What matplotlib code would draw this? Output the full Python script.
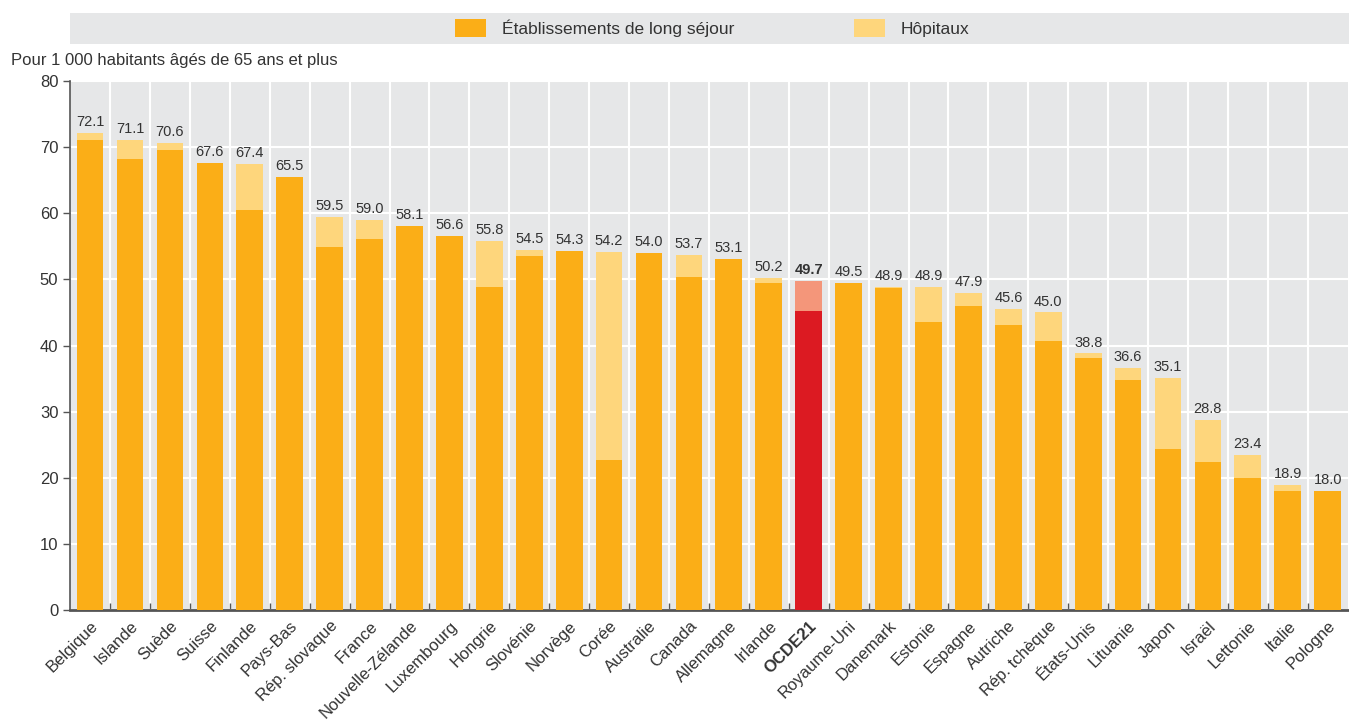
import numpy as np
import matplotlib.pyplot as plt
from matplotlib.patches import Rectangle, Patch

plt.rcParams['font.family'] = ['Liberation Sans Narrow', 'Liberation Sans', 'DejaVu Sans']

pays = ["Belgique", "Islande", "Suède", "Suisse", "Finlande", "Pays-Bas", "Rép. slovaque",
        "France", "Nouvelle-Zélande", "Luxembourg", "Hongrie", "Slovénie", "Norvège", "Corée",
        "Australie", "Canada", "Allemagne", "Irlande", "OCDE21", "Royaume-Uni", "Danemark",
        "Estonie", "Espagne", "Autriche", "Rép. tchèque", "États-Unis", "Lituanie", "Japon",
        "Israël", "Lettonie", "Italie", "Pologne"]
total = [72.1, 71.1, 70.6, 67.6, 67.4, 65.5, 59.5, 59.0, 58.1, 56.6, 55.8, 54.5, 54.3, 54.2,
         54.0, 53.7, 53.1, 50.2, 49.7, 49.5, 48.9, 48.9, 47.9, 45.6, 45.0, 38.8, 36.6, 35.1,
         28.8, 23.4, 18.9, 18.0]
long_sejour = [71.1, 68.2, 69.6, 67.6, 60.5, 65.5, 54.9, 56.1, 58.1, 56.6, 48.8, 53.5, 54.3, 22.7,
               54.0, 50.4, 53.1, 49.4, 45.2, 49.5, 48.7, 43.6, 46.0, 43.1, 40.7, 38.1, 34.8, 24.3,
               22.4, 20.0, 18.0, 18.0]

ORANGE = "#fbae17"
JAUNE = "#fed67c"
ROUGE = "#dc1a22"
ROSE = "#f4967a"
TXT = "#333333"

total = np.array(total)
long_sejour = np.array(long_sejour)
hopitaux = total - long_sejour
x = np.arange(len(pays))
is_oecd = np.array([p == "OCDE21" for p in pays])

fig = plt.figure(figsize=(13.49, 7.25), dpi=100)
ax = fig.add_axes([0.052, 0.1586, 0.947, 0.7296])
ax.set_facecolor("#e6e7e8")

c1 = [ROUGE if o else ORANGE for o in is_oecd]
c2 = [ROSE if o else JAUNE for o in is_oecd]
w = 0.67
ax.bar(x, long_sejour, width=w, color=c1, zorder=3)
ax.bar(x, hopitaux, bottom=long_sejour, width=w, color=c2, zorder=3)

for i, t in enumerate(total):
    ax.text(x[i], t + 0.6, f"{t:.1f}", ha='center', va='bottom', fontsize=10.5, color=TXT,
            fontweight='bold' if is_oecd[i] else 'normal', zorder=4)

ax.set_xlim(-0.5, len(pays) - 0.5)
ax.set_ylim(0, 80)
ax.set_yticks(np.arange(0, 81, 10))
ax.set_xticks(x)
ax.set_xticklabels(pays, rotation=45, ha='right', rotation_mode='anchor', fontsize=12, color=TXT)
for lab in ax.get_xticklabels():
    if lab.get_text() == "OCDE21":
        lab.set_fontweight('bold')
ax.set_xticks(x[:-1] + 0.5, minor=True)
ax.tick_params(axis='x', which='major', length=0, pad=6)
ax.tick_params(axis='x', which='minor', length=5, direction='in', color='#555555', width=1)
ax.tick_params(axis='y', labelsize=12, labelcolor=TXT, length=5, color='#555555', width=1)

ax.grid(True, axis='y', color='white', linewidth=1.5, zorder=1)
ax.grid(True, axis='x', which='minor', color='white', linewidth=1.5, zorder=1)
for s in ['top', 'right']:
    ax.spines[s].set_visible(False)
ax.spines['left'].set_color('#555555')
ax.spines['bottom'].set_color('#555555')
ax.spines['bottom'].set_linewidth(2)
ax.spines['left'].set_linewidth(1.2)

fig.text(0.008, 0.917, "Pour 1 000 habitants âgés de 65 ans et plus", fontsize=12, color=TXT,
         ha='left', va='center')

# bandeau de légende
fig.patches.append(Rectangle((0.052, 0.939), 0.948, 0.043, transform=fig.transFigure,
                             facecolor="#e6e7e8", edgecolor='none', zorder=0))
handles = [Patch(facecolor=ORANGE, label="Établissements de long séjour"),
           Patch(facecolor=JAUNE, label="Hôpitaux")]
fig.legend(handles=handles, loc='center', bbox_to_anchor=(0.528, 0.961), ncol=2,
           frameon=False, fontsize=12.5, handlelength=1.8, handleheight=1.2,
           columnspacing=6.9, handletextpad=0.9, labelcolor=TXT)

fig.savefig("out.png", dpi=100)
